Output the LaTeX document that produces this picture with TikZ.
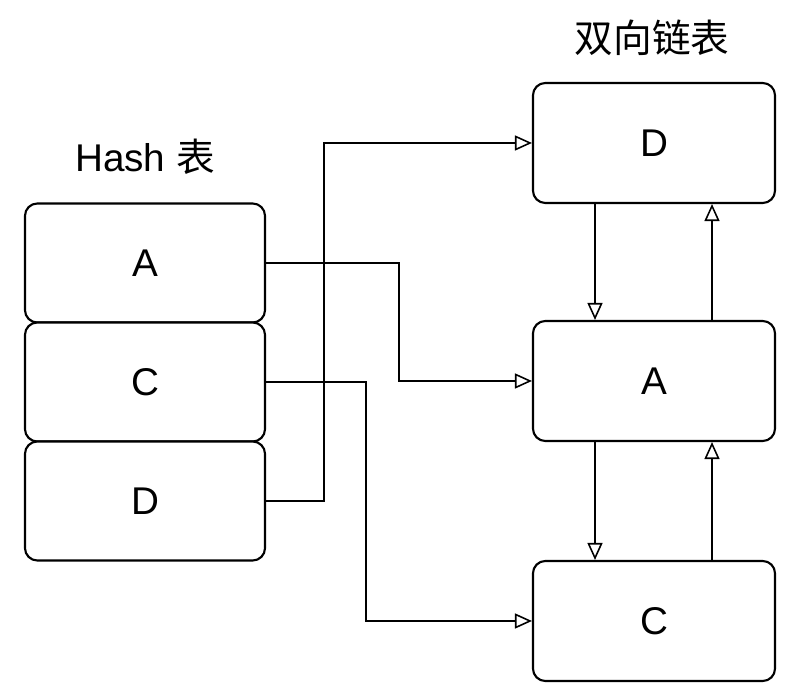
\documentclass[tikz,border=0pt]{standalone}
\usepackage{fontspec}
\setmainfont{Liberation Sans}
\newfontfamily\cjk{Noto Sans CJK SC}
\usetikzlibrary{positioning,arrows.meta,calc}
\definecolor{ink}{HTML}{000000}
\definecolor{paper}{HTML}{FFFFFF}

\begin{document}
\begin{tikzpicture}[
      x=1cm, y=1cm,
      cellbox/.style={draw=ink, line width=1.2pt, fill=paper,
                      rounded corners=7pt, minimum width=4.8cm,
                      minimum height=2.38cm, inner sep=0pt,
                      font=\fontsize{22pt}{26pt}\selectfont},
      nodebox/.style={cellbox, minimum width=4.84cm, minimum height=2.4cm},
      title/.style={font=\fontsize{22pt}{26pt}\selectfont, inner sep=0pt},
      link/.style={-{Triangle[open,length=3.4mm,width=3mm]}, line width=0.9pt, color=ink},
    ]
      \useasboundingbox (0,0) rectangle (15.96,14);

      % Hash table cells
      \node[cellbox] (hashA) at (2.9,8.74) {A};
      \node[cellbox] (hashC) at (2.9,6.36) {C};
      \node[cellbox] (hashD) at (2.9,3.98) {D};
      \node[title] (hashtitle) at (2.9,10.86) {Hash {\cjk 表}};

      % doubly linked list
      \node[nodebox] (listD) at (13.08,11.14) {D};
      \node[nodebox] (listA) at (13.08,6.38) {A};
      \node[nodebox] (listC) at (13.08,1.58) {C};
      \node[title] (listtitle) at (13.04,13.24) {\cjk 双向链表};

      % hash -> list
      \draw[link] (hashA.east) -- ++(2.66,0) |- (listA.west);
      \draw[link] (hashC.east) -- ++(2.0,0) |- (listC.west);
      \draw[link] (hashD.east) -- ++(1.16,0) |- (listD.west);

      % list links
      \draw[link] ([xshift=-1.18cm]listD.south) -- ([xshift=-1.18cm]listA.north);
      \draw[link] ([xshift=1.16cm]listA.north) -- ([xshift=1.16cm]listD.south);
      \draw[link] ([xshift=-1.18cm]listA.south) -- ([xshift=-1.18cm]listC.north);
      \draw[link] ([xshift=1.16cm]listC.north) -- ([xshift=1.16cm]listA.south);

    \end{tikzpicture}
\end{document}
